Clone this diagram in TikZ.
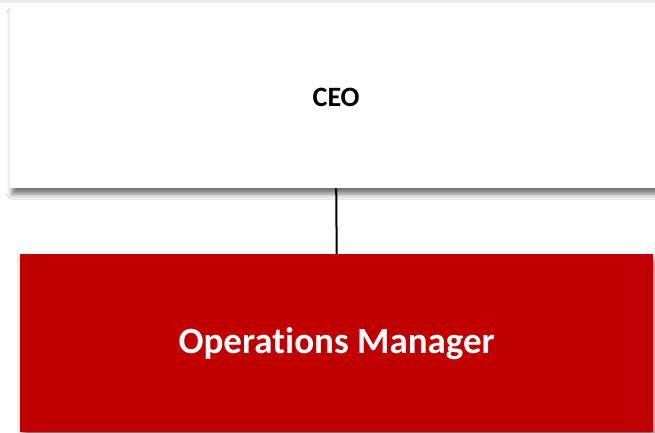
\documentclass[tikz,border=0pt]{standalone}
\usepackage{fontspec}
\setmainfont[Ligatures={NoCommon,NoDiscretionary}]{Carlito}
\usetikzlibrary{shadows.blur}
\definecolor{opsred}{HTML}{C00000}
\definecolor{topstrip}{HTML}{EDEDED}
\begin{document}
\begin{tikzpicture}[x=1pt,y=1pt,
  orgbox/.style={rectangle, inner sep=0pt, font=\bfseries,
    blur shadow={shadow xshift=2pt, shadow yshift=-6pt,
      shadow blur radius=5pt, shadow opacity=55}},
  ceobox/.style={orgbox, fill=white, text=black,
    minimum width=652pt, minimum height=182pt},
  opsbox/.style={orgbox, fill=opsred, text=white,
    minimum width=633pt, minimum height=178pt},
  link/.style={draw=black, line width=2pt}]
  % page area
  \useasboundingbox (0,0) rectangle (655,432);
  \fill[white] (0,0) rectangle (655,432);
  \fill[topstrip] (0,429) rectangle (655,432);
  % boxes
  \node[ceobox, anchor=north west] (ceo) at (10,426)
    {\fontsize{28}{32}\selectfont CEO};
  \node[opsbox, anchor=north west] (ops) at (20,178)
    {\fontsize{37}{42}\selectfont Operations Manager};
  % connector
  \draw[link] (ceo.south) -- (ops.north);
\end{tikzpicture}
\end{document}
